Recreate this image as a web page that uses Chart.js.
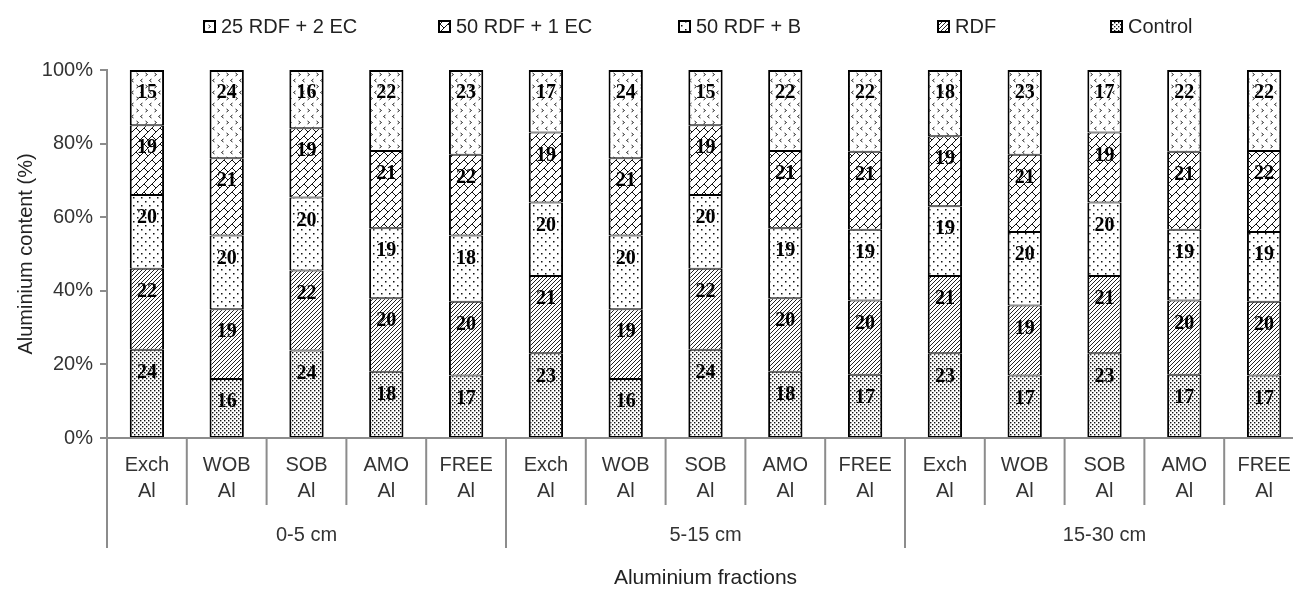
<!DOCTYPE html>
<html>
<head>
<meta charset="utf-8">
<script src="https://cdn.jsdelivr.net/npm/chart.js@4/dist/chart.umd.min.js"></script>
<style>
  html, body { margin: 0; padding: 0; background: #fff; overflow: hidden; }
  #wrap { width: 1310px; height: 589px; }
</style>
</head>
<body>
<div id="wrap"><canvas id="alChart" width="1310" height="589"></canvas></div>
<script>
const fractions = ["Exch", "WOB", "SOB", "AMO", "FREE"];
const depths = ["0-5 cm", "5-15 cm", "15-30 cm"];

// values, bottom to top
const control = [24, 16, 24, 18, 17, 23, 16, 24, 18, 17, 23, 17, 23, 17, 17];
const rdf     = [22, 19, 22, 20, 20, 21, 19, 22, 20, 20, 21, 19, 21, 20, 20];
const rdfB    = [20, 20, 20, 19, 18, 20, 20, 20, 19, 19, 19, 20, 20, 19, 19];
const rdf1EC  = [19, 21, 19, 21, 22, 19, 21, 19, 21, 21, 19, 21, 19, 21, 22];
const rdf2EC  = [15, 24, 16, 22, 23, 17, 24, 15, 22, 22, 18, 23, 17, 22, 22];

const yTicks = [0, 20, 40, 60, 80, 100];

const categories = [];
depths.forEach(() => fractions.forEach(f => categories.push([f, "Al"])));

const sums = control.map((v, i) => v + rdf[i] + rdfB[i] + rdf1EC[i] + rdf2EC[i]);
const share = arr => arr.map((v, i) => v / sums[i] * 100);

const FONT = "'Liberation Sans', Arial, sans-serif";
const canvas = document.getElementById("alChart");
const ctx = canvas.getContext("2d");

function makePattern(w, h, draw) {
  const c = document.createElement("canvas");
  c.width = w; c.height = h;
  const g = c.getContext("2d");
  g.fillStyle = "#fff";
  g.fillRect(0, 0, w, h);
  draw(g);
  return ctx.createPattern(c, "repeat");
}

// fine stipple
const patControl = makePattern(4, 4, g => {
  g.fillStyle = "#111";
  g.fillRect(0, 0, 1.4, 1.4);
  g.fillRect(2, 2, 1.4, 1.4);
});

// dense "/" hatch
const patRDF = makePattern(4, 4, g => {
  g.strokeStyle = "#222";
  g.lineWidth = 1;
  g.beginPath();
  g.moveTo(-1, 5); g.lineTo(5, -1);
  g.moveTo(-1, 1); g.lineTo(1, -1);
  g.moveTo(3, 5); g.lineTo(5, 3);
  g.stroke();
});

// sparse dots
const patB = makePattern(8, 8, g => {
  g.fillStyle = "#111";
  g.fillRect(1, 1, 1.5, 1.5);
  g.fillRect(5, 5, 1.5, 1.5);
});

// diagonal brick
const pat1EC = makePattern(16, 16, g => {
  g.strokeStyle = "#111";
  g.lineWidth = 1;
  g.beginPath();
  for (let c = -16; c <= 48; c += 8) {
    g.moveTo(c + 2, -2); g.lineTo(c - 18, 18);
  }
  for (let c0 = -16; c0 <= 40; c0 += 8) {
    const off = (((c0 / 8) % 2) + 2) % 2 === 0 ? 0 : 8;
    for (let d = -48 + off; d <= 48; d += 16) {
      g.moveTo((c0 + d) / 2, (c0 - d) / 2);
      g.lineTo((c0 + 8 + d) / 2, (c0 + 8 - d) / 2);
    }
  }
  g.stroke();
});

// small chevrons
const pat2EC = makePattern(9, 12, g => {
  g.strokeStyle = "#222";
  g.lineWidth = 1;
  g.beginPath();
  g.moveTo(1.5, 1); g.lineTo(3.5, 2.5); g.lineTo(1.5, 4);
  g.moveTo(7.5, 7); g.lineTo(5.5, 8.5); g.lineTo(7.5, 10);
  g.stroke();
});

const segmentLabels = {
  id: "segmentLabels",
  afterDatasetsDraw(chart) {
    const c = chart.ctx;
    c.save();
    c.font = "bold 20px 'Liberation Serif', 'Times New Roman', serif";
    c.fillStyle = "#000";
    c.textAlign = "center";
    c.textBaseline = "middle";
    chart.data.datasets.forEach((ds, di) => {
      chart.getDatasetMeta(di).data.forEach((bar, i) => {
        c.fillText(String(ds.raw[i]), bar.x, bar.y + 23);
      });
    });
    c.restore();
  }
};

const groupAxis = {
  id: "groupAxis",
  afterDraw(chart) {
    const c = chart.ctx;
    const x = chart.scales.x;
    const base = chart.chartArea.bottom;
    const step = x.getPixelForValue(1) - x.getPixelForValue(0);
    c.save();
    c.strokeStyle = "#8c8c8c";
    c.lineWidth = 2;
    c.beginPath();
    for (let i = 0; i <= categories.length; i++) {
      const px = x.getPixelForValue(0) + (i - 0.5) * step;
      const long = i % fractions.length === 0;
      c.moveTo(px, base);
      c.lineTo(px, base + (long ? 110 : 67));
    }
    c.stroke();
    c.fillStyle = "#333";
    c.font = "20px " + FONT;
    c.textAlign = "center";
    c.textBaseline = "middle";
    depths.forEach((d, g) => {
      const a = x.getPixelForValue(g * fractions.length);
      const b = x.getPixelForValue(g * fractions.length + fractions.length - 1);
      c.fillText(d, (a + b) / 2, base + 97);
    });
    c.restore();
  }
};

const legendX = [203, 438, 678, 937, 1110];
const topLegend = {
  id: "topLegend",
  afterDraw(chart) {
    const c = chart.ctx;
    const items = chart.data.datasets.slice().reverse();
    c.save();
    items.forEach((ds, k) => {
      const bx = legendX[k];
      c.fillStyle = ds.backgroundColor;
      c.fillRect(bx, 20, 13, 13);
      c.strokeStyle = "#000";
      c.lineWidth = 2;
      c.strokeRect(bx + 1, 21, 11, 11);
      c.fillStyle = "#222";
      c.font = "20px " + FONT;
      c.textAlign = "left";
      c.textBaseline = "middle";
      c.fillText(ds.label, bx + 18, 27);
    });
    c.restore();
  }
};

function series(label, values, pattern, isTop) {
  return {
    label,
    data: share(values),
    raw: values,
    backgroundColor: pattern,
    borderColor: "#000",
    borderWidth: { top: isTop ? 2 : 1, bottom: 1, left: 2, right: 2 },
    borderSkipped: false,
    barPercentage: 0.43,
    categoryPercentage: 1
  };
}

new Chart(ctx, {
  type: "bar",
  data: {
    labels: categories,
    datasets: [
      series("Control", control, patControl),
      series("RDF", rdf, patRDF),
      series("50 RDF + B", rdfB, patB),
      series("50 RDF + 1 EC", rdf1EC, pat1EC),
      series("25 RDF + 2 EC", rdf2EC, pat2EC, true)
    ]
  },
  options: {
    responsive: false,
    animation: false,
    layout: { padding: { top: 70, right: 6, left: 0, bottom: 0 } },
    plugins: {
      legend: { display: false },
      tooltip: { enabled: false }
    },
    scales: {
      x: {
        stacked: true,
        grid: { display: false, drawTicks: false },
        border: { display: true, color: "#8c8c8c", width: 2 },
        ticks: {
          color: "#333",
          font: { family: FONT, size: 20, lineHeight: 1.3 },
          padding: 14,
          maxRotation: 0,
          autoSkip: false
        },
        title: {
          display: true,
          text: "Aluminium fractions",
          color: "#222",
          font: { family: FONT, size: 21, lineHeight: 1 },
          padding: 0
        },
        afterFit(s) { s.height = 151; }
      },
      y: {
        stacked: true,
        min: 0,
        max: 100,
        afterBuildTicks(s) { s.ticks = yTicks.map(v => ({ value: v })); },
        ticks: {
          color: "#333",
          font: { family: FONT, size: 20 },
          padding: 7,
          callback: v => v + "%"
        },
        grid: { display: true, drawOnChartArea: false, tickLength: 7, color: "#8c8c8c", lineWidth: 2 },
        border: { display: true, color: "#8c8c8c", width: 2 },
        title: {
          display: true,
          text: "Aluminium content (%)",
          color: "#222",
          font: { family: FONT, size: 20 },
          padding: { top: 14, bottom: 0 }
        },
        afterFit(s) { s.width = 107; }
      }
    }
  },
  plugins: [segmentLabels, groupAxis, topLegend]
});
</script>
</body>
</html>
